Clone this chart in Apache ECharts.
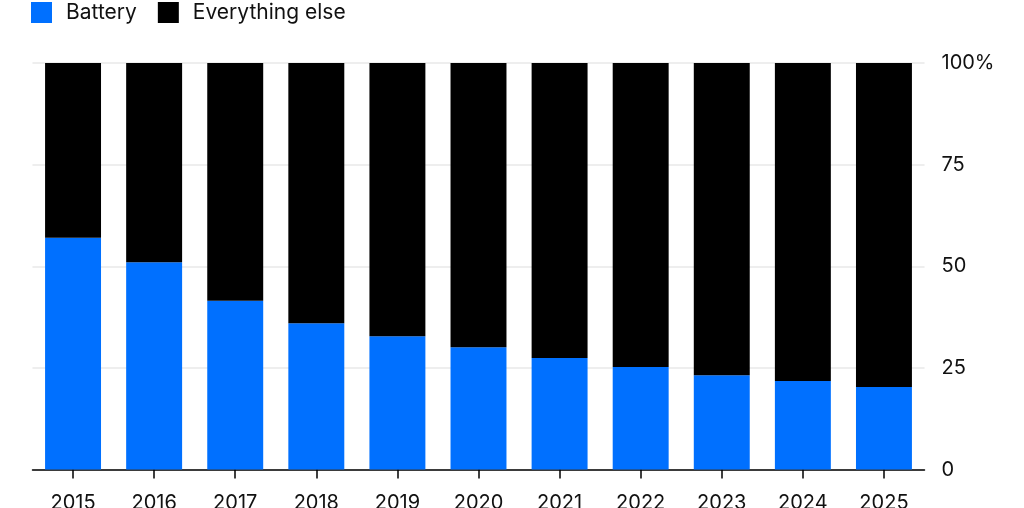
<!DOCTYPE html>
<html><head><meta charset="utf-8">
<script src="https://cdn.jsdelivr.net/npm/echarts@6/dist/echarts.min.js"></script>
<style>html,body{margin:0;padding:0;background:#fff}#c{width:1024px;height:508px}</style>
</head><body><div id="c"></div>
<script>
const years = ['2015','2016','2017','2018','2019','2020','2021','2022','2023','2024','2025'];
const battery = [57, 51, 41.5, 36, 32.8, 30.1, 27.4, 25.2, 23.2, 21.8, 20.3];
const everythingElse = battery.map(v => 100 - v);
const yTicks = [0, 25, 50, 75, 100];

const FONT = 'Inter, "Liberation Sans", Arial, sans-serif';
const chart = echarts.init(document.getElementById('c'), null, {renderer: 'canvas'});
chart.setOption({
  animation: false,
  textStyle: {fontFamily: FONT},
  legend: {
    left: 31, top: 2, itemWidth: 21, itemHeight: 21, itemGap: 21, icon: 'rect', padding: 0,
    textStyle: {fontSize: 21, color: '#111', fontFamily: FONT, padding: [0, 0, 0, 9]},
    data: ['Battery', 'Everything else']
  },
  grid: {left: 32.5, right: 99.5, top: 63, bottom: 38.5, containLabel: false, outerBoundsMode: 'none'},
  xAxis: {
    type: 'category', data: years,
    axisLine: {lineStyle: {color: '#000', width: 1.5}},
    axisTick: {show: true, alignWithLabel: true, length: 9, lineStyle: {color: '#000', width: 1.5}},
    axisLabel: {color: '#111', fontSize: 20, margin: 23, fontFamily: FONT}
  },
  yAxis: {
    type: 'value', position: 'right', min: 0, max: 100, interval: 25,
    axisLine: {show: false}, axisTick: {show: false},
    splitLine: {lineStyle: {color: '#e8e8e8', width: 1.5}},
    axisLabel: {color: '#111', fontSize: 20, margin: 17, fontFamily: FONT,
      formatter: v => yTicks.includes(v) ? (v === 100 ? '100%' : String(v)) : ''}
  },
  series: [
    {name: 'Battery', type: 'bar', stack: 's', data: battery, barCategoryGap: '31%',
      itemStyle: {color: '#0070ff'}},
    {name: 'Everything else', type: 'bar', stack: 's', data: everythingElse,
      itemStyle: {color: '#000000'}}
  ]
});
</script></body></html>
